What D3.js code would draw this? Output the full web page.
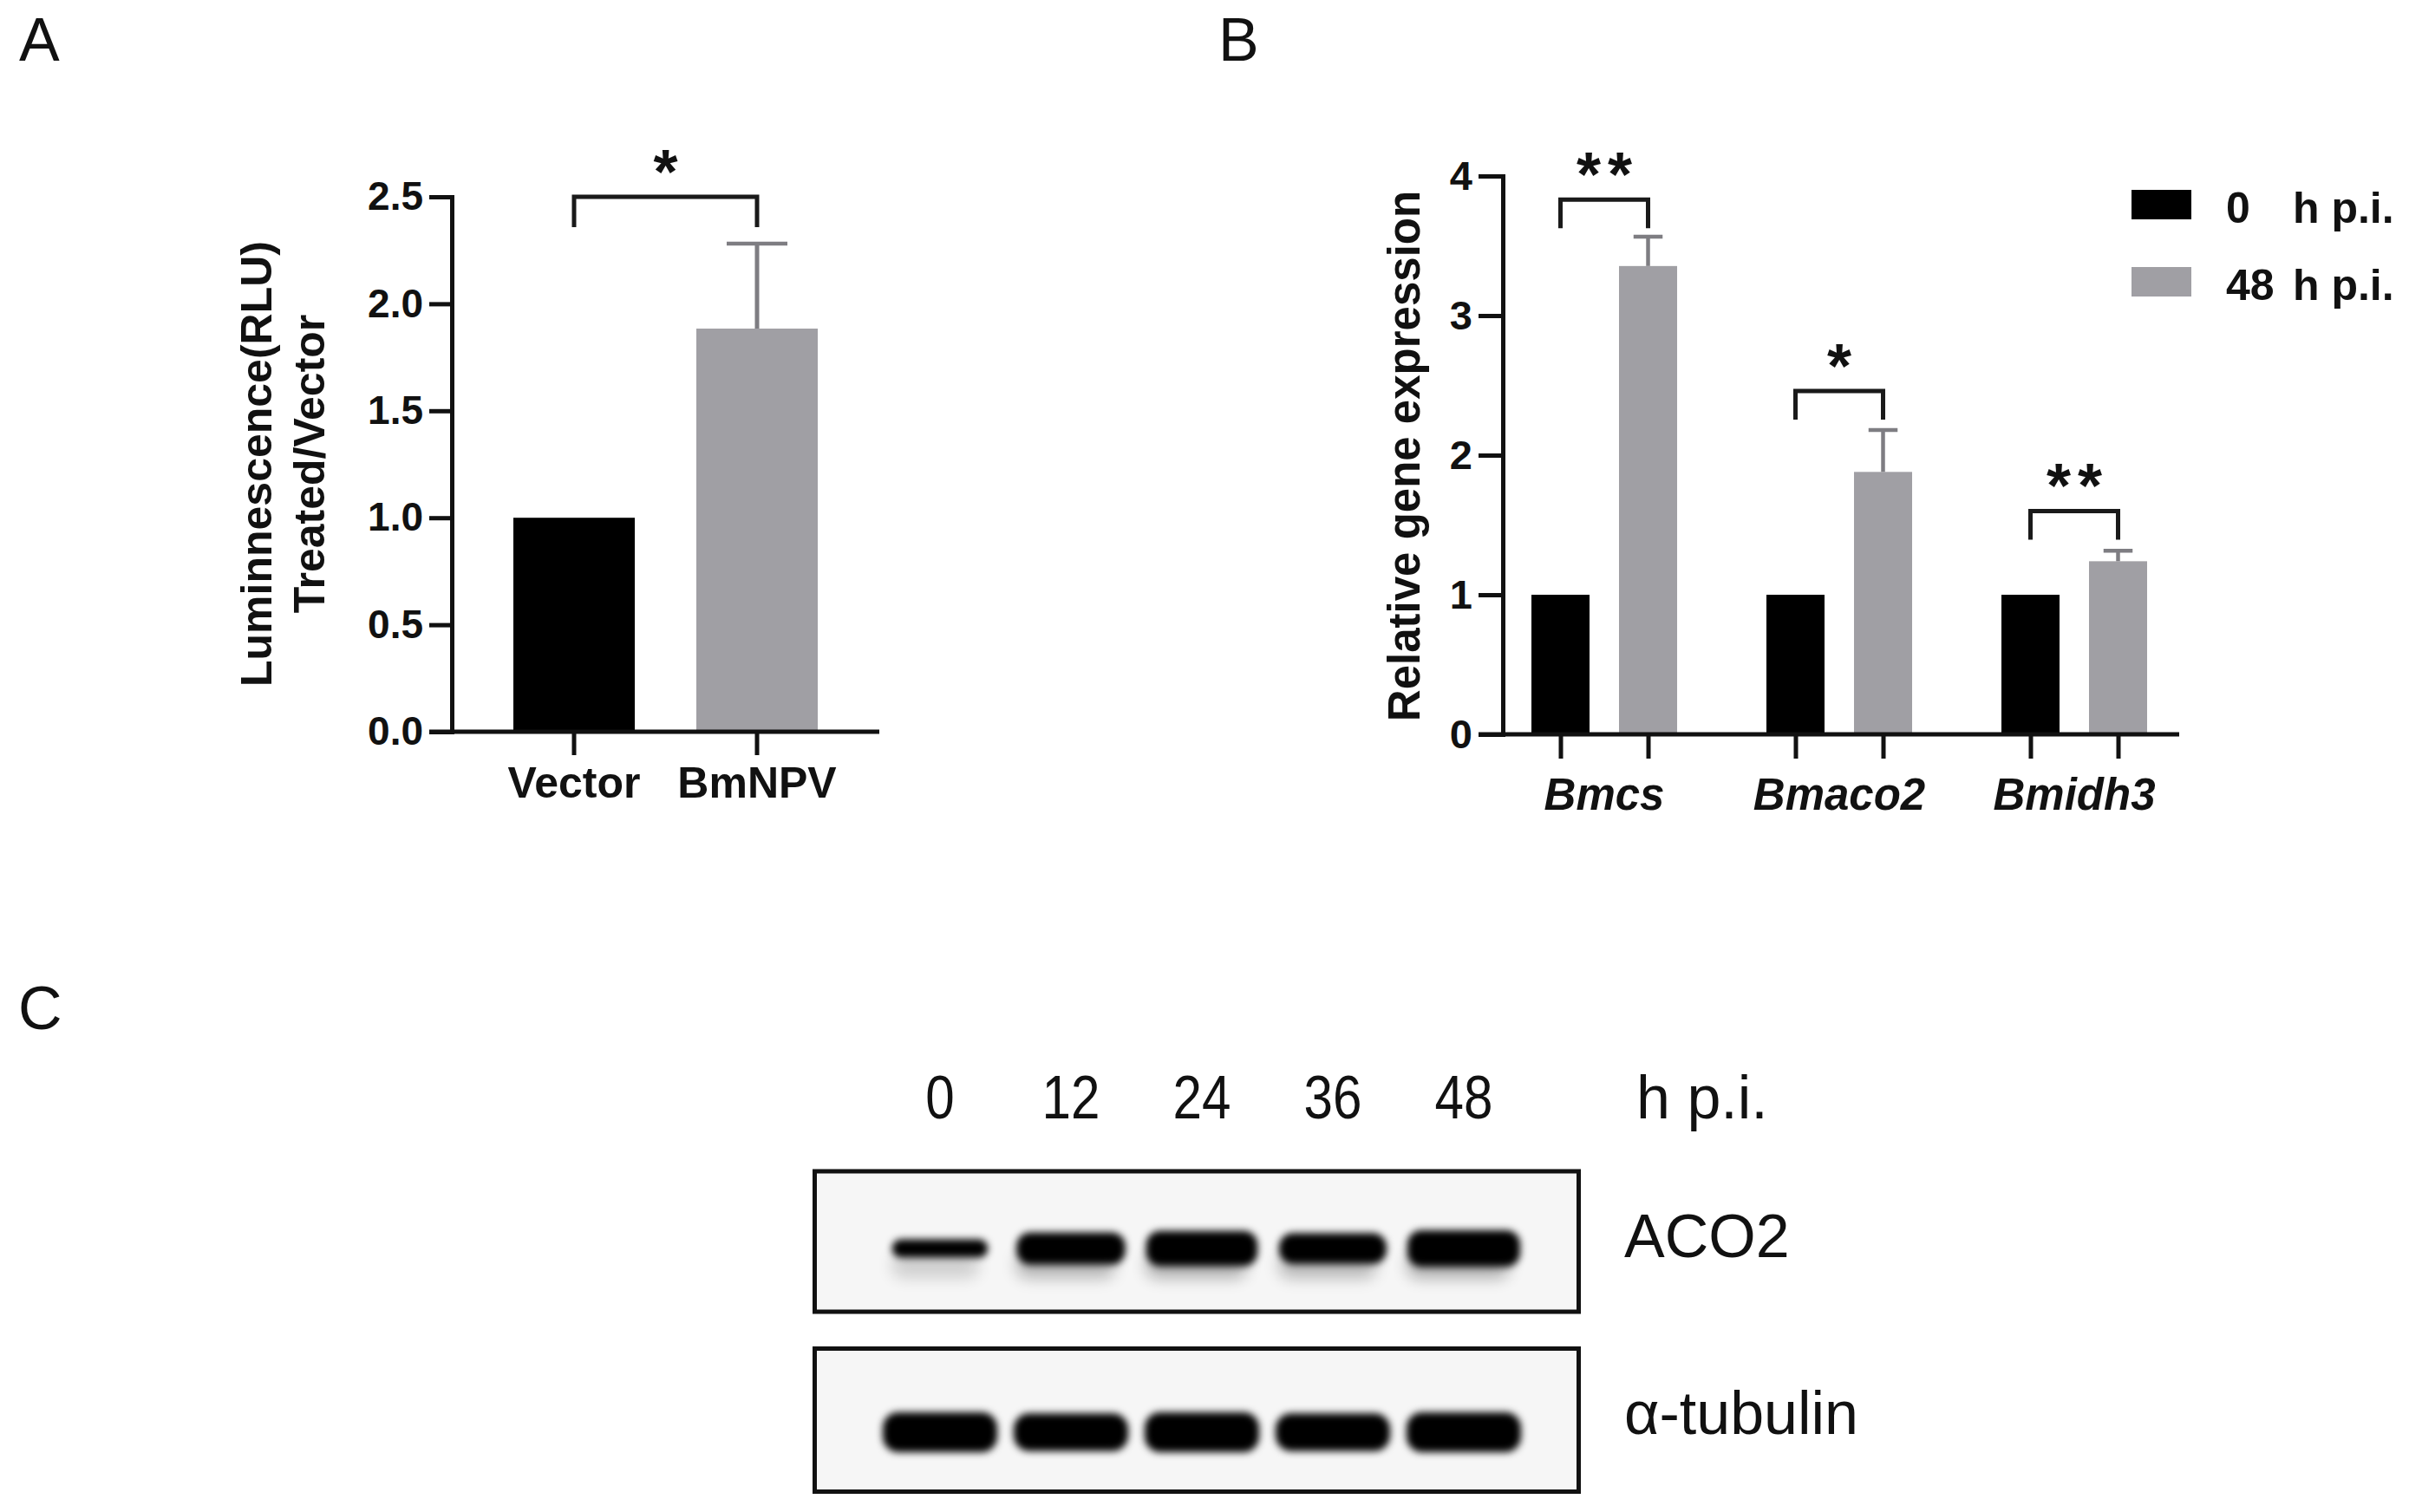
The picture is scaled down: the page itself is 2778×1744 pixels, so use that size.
<!DOCTYPE html>
<html><head><meta charset="utf-8">
<script src="https://cdn.jsdelivr.net/npm/d3@7"></script>
<style>body{margin:0;background:#fff} svg{display:block}</style>
</head><body>
<svg id="c" width="2778" height="1744"></svg>
<script>
// ---------- Panel A data ----------
const aCategories = ["Vector", "BmNPV"];
const aValues = [1.0, 1.884];
const aErrors = [0, 0.397];
const aTicks = [0, 0.5, 1.0, 1.5, 2.0, 2.5];
const aSig = [{from: "Vector", to: "BmNPV", level: 2.5, label: "*"}];

// ---------- Panel B data ----------
const bGenes = ["Bmcs", "Bmaco2", "Bmidh3"];
const bSeries = ["0 h p.i.", "48 h p.i."];
const b0h = [1, 1, 1];
const b48h = [3.355, 1.88, 1.24];
const b0hErr = [0, 0, 0];
const b48hErr = [0.21, 0.30, 0.075];
const bTicks = [0, 1, 2, 3, 4];
const bSig = [
  {gene: "Bmcs", level: 3.83, label: "**"},
  {gene: "Bmaco2", level: 2.46, label: "*"},
  {gene: "Bmidh3", level: 1.60, label: "**"}
];

// ---------- Panel C data ----------
const cLanes = ["0", "12", "24", "36", "48"];
const cUnit = "h p.i.";
const cBlots = ["ACO2", "α-tubulin"];
const aco2Intensity = [0.35, 0.85, 0.95, 0.8, 1.0];
const tubulinIntensity = [1.0, 0.95, 1.0, 0.95, 1.0];

// ---------- drawing ----------
const FONT = "'Liberation Sans', Arial, Helvetica, sans-serif";
const BLACK = "#000", GRAY = "#a09fa4", ERR = "#7e7d82", AXIS = "#111";
const svg = d3.select("#c");

// panel letters
[["A", 22, 70], ["B", 1405, 70], ["C", 21, 1187]].forEach(([t, x, y]) => {
  svg.append("text").attr("x", x).attr("y", y).text(t)
    .attr("font-family", FONT).attr("font-size", 70).attr("fill", "#111");
});

function styleAxis(g, fs, italic) {
  g.selectAll("path.domain").attr("stroke", AXIS).attr("stroke-width", 5).attr("stroke-linecap", "square");
  g.selectAll(".tick line").attr("stroke", AXIS).attr("stroke-width", 5);
  g.selectAll(".tick text").attr("font-family", FONT).attr("font-size", fs)
    .attr("font-weight", "bold").attr("fill", "#111")
    .attr("font-style", italic ? "italic" : "normal");
}

function sigBracket(g, x1, x2, y, label, leg) {
  g.append("path")
    .attr("d", `M${x1},${y + leg}V${y}H${x2}V${y + leg}`)
    .attr("fill", "none").attr("stroke", "#1a1a1a").attr("stroke-width", 5);
  g.append("text").attr("x", (x1 + x2) / 2 + (label.length > 1 ? 4 : 0)).attr("y", y - 4)
    .attr("text-anchor", "middle").attr("font-family", FONT).attr("font-weight", "bold")
    .attr("font-size", 72).attr("letter-spacing", label.length > 1 ? 8 : 0)
    .attr("fill", "#111").text(label);
}

// ===== Panel A =====
{
  const g = svg.append("g");
  const y = d3.scaleLinear().domain([0, 2.5]).range([844, 227]);
  const x = d3.scaleBand().domain(aCategories).range([592, 943]).paddingInner(0.3365);
  const bw = x.bandwidth();

  g.selectAll("rect.bar").data(aCategories).join("rect")
    .attr("x", d => x(d)).attr("y", (d, i) => y(aValues[i]))
    .attr("width", bw).attr("height", (d, i) => y(0) - y(aValues[i]))
    .attr("fill", (d, i) => i === 0 ? BLACK : GRAY);

  aCategories.forEach((d, i) => {
    if (!aErrors[i]) return;
    const cx = x(d) + bw / 2;
    g.append("line").attr("x1", cx).attr("x2", cx)
      .attr("y1", y(aValues[i])).attr("y2", y(aValues[i] + aErrors[i]))
      .attr("stroke", ERR).attr("stroke-width", 5);
    g.append("line").attr("x1", cx - bw / 4).attr("x2", cx + bw / 4)
      .attr("y1", y(aValues[i] + aErrors[i])).attr("y2", y(aValues[i] + aErrors[i]))
      .attr("stroke", ERR).attr("stroke-width", 4.5);
  });

  const ya = g.append("g").attr("transform", "translate(521,0)")
    .call(d3.axisLeft(y).tickValues(aTicks).tickFormat(d3.format(".1f"))
      .tickSize(26).tickSizeOuter(0).tickPadding(7));
  styleAxis(ya, 46, false);

  g.append("line").attr("x1", 495).attr("x2", 1014).attr("y1", y(0)).attr("y2", y(0))
    .attr("stroke", AXIS).attr("stroke-width", 5);
  const xa = g.append("g").attr("transform", `translate(0,${y(0)})`)
    .call(d3.axisBottom(x).tickSize(27).tickSizeOuter(0).tickPadding(13));
  xa.select("path.domain").remove();
  styleAxis(xa, 50, false);

  aSig.forEach(s => sigBracket(g, x(s.from) + bw / 2, x(s.to) + bw / 2, y(s.level), s.label, 35));

  [["Luminnescence(RLU)", 313], ["Treated/Vector", 374]].forEach(([t, bx]) => {
    g.append("text").attr("transform", `translate(${bx},535) rotate(-90)`)
      .attr("text-anchor", "middle").attr("font-family", FONT).attr("font-weight", "bold")
      .attr("font-size", 50).attr("fill", "#111").text(t);
  });
}

// ===== Panel B =====
{
  const g = svg.append("g");
  const y = d3.scaleLinear().domain([0, 4]).range([847, 203]);
  const xg = d3.scaleBand().domain(bGenes).range([1766, 2476]).paddingInner(0.38);
  const xi = d3.scaleBand().domain(bSeries).range([0, xg.bandwidth()]).paddingInner(0.3366);
  const bw = xi.bandwidth();
  const vals = [b0h, b48h], errs = [b0hErr, b48hErr], cols = [BLACK, GRAY];

  const rows = [];
  bGenes.forEach((gene, gi) => bSeries.forEach((s, si) => rows.push({
    gene, s, si, v: vals[si][gi], e: errs[si][gi], key: gene + "|" + s
  })));

  g.selectAll("rect.bar").data(rows).join("rect")
    .attr("x", d => xg(d.gene) + xi(d.s)).attr("y", d => y(d.v))
    .attr("width", bw).attr("height", d => y(0) - y(d.v))
    .attr("fill", d => cols[d.si]);

  rows.filter(d => d.e > 0).forEach(d => {
    const cx = xg(d.gene) + xi(d.s) + bw / 2;
    g.append("line").attr("x1", cx).attr("x2", cx).attr("y1", y(d.v)).attr("y2", y(d.v + d.e))
      .attr("stroke", ERR).attr("stroke-width", 4.5);
    g.append("line").attr("x1", cx - bw / 4).attr("x2", cx + bw / 4)
      .attr("y1", y(d.v + d.e)).attr("y2", y(d.v + d.e))
      .attr("stroke", ERR).attr("stroke-width", 4.5);
  });

  const ya = g.append("g").attr("transform", "translate(1733,0)")
    .call(d3.axisLeft(y).tickValues(bTicks).tickFormat(d3.format("d"))
      .tickSize(28).tickSizeOuter(0).tickPadding(7));
  styleAxis(ya, 47, false);

  g.append("line").attr("x1", 1705).attr("x2", 2513).attr("y1", y(0)).attr("y2", y(0))
    .attr("stroke", AXIS).attr("stroke-width", 5);

  const tickScale = d3.scaleOrdinal().domain(rows.map(d => d.key))
    .range(rows.map(d => xg(d.gene) + xi(d.s) + bw / 2));
  const xt = g.append("g").attr("transform", `translate(0,${y(0)})`)
    .call(d3.axisBottom(tickScale).tickSize(28).tickSizeOuter(0).tickFormat(""));
  xt.select("path.domain").remove();
  styleAxis(xt, 50, false);

  const xl = g.append("g").attr("transform", `translate(0,${y(0)})`)
    .call(d3.axisBottom(xg).tickSize(0).tickPadding(51));
  xl.select("path.domain").remove();
  xl.selectAll(".tick line").remove();
  styleAxis(xl, 51, true);

  bSig.forEach(s => sigBracket(g, xg(s.gene) + xi(bSeries[0]) + bw / 2,
    xg(s.gene) + xi(bSeries[1]) + bw / 2, y(s.level), s.label, 33));

  g.append("text").attr("transform", "translate(1637,526) rotate(-90)")
    .attr("text-anchor", "middle").attr("font-family", FONT).attr("font-weight", "bold")
    .attr("font-size", 51).attr("fill", "#111").text("Relative gene expression");

  // legend
  const lg = g.append("g");
  bSeries.forEach((s, i) => {
    const ly = 219 + i * 89;
    lg.append("rect").attr("x", 2458).attr("y", ly).attr("width", 69).attr("height", 34).attr("fill", cols[i]);
    const parts = s.split(" ");
    const t = lg.append("text").attr("y", ly + 38).attr("font-family", FONT)
      .attr("font-weight", "bold").attr("font-size", 50).attr("fill", "#111");
    t.append("tspan").attr("x", 2567).text(parts[0]);
    t.append("tspan").attr("x", 2644).text(parts.slice(1).join(" "));
  });
}

// ===== Panel C =====
{
  const g = svg.append("g");
  const defs = svg.append("defs");
  const f = defs.append("filter").attr("id", "blur").attr("x", "-30%").attr("y", "-80%")
    .attr("width", "160%").attr("height", "260%");
  f.append("feGaussianBlur").attr("stdDeviation", 4.5);
  const f2 = defs.append("filter").attr("id", "blur2").attr("x", "-30%").attr("y", "-80%")
    .attr("width", "160%").attr("height", "260%");
  f2.append("feGaussianBlur").attr("stdDeviation", 9);

  const x = d3.scalePoint().domain(cLanes).range([1084, 1688]);

  g.selectAll("text.lane").data(cLanes).join("text")
    .attr("transform", d => `translate(${x(d)},1290) scale(0.86,1)`)
    .attr("text-anchor", "middle").attr("font-family", FONT).attr("font-size", 70)
    .attr("fill", "#111").text(d => d);
  g.append("text").attr("x", 1887).attr("y", 1290).attr("font-family", FONT)
    .attr("font-size", 70).attr("fill", "#111").text(cUnit);

  const boxes = [{y: 1351, h: 162, cy: 1440}, {y: 1555.5, h: 165, cy: 1652}];
  const intens = [aco2Intensity, tubulinIntensity];
  const labelY = [1450, 1654];

  boxes.forEach((b, bi) => {
    g.append("rect").attr("x", 939.5).attr("y", b.y).attr("width", 881).attr("height", b.h)
      .attr("fill", "#f6f6f6");
    const bandG = g.append("g");
    cLanes.forEach((lane, li) => {
      const it = intens[bi][li];
      if (bi === 0) {
        const th = 10 + 32 * it, w = 100 + 30 * it;
        bandG.append("rect").attr("x", x(lane) - w / 2).attr("y", b.cy + 4)
          .attr("width", w * 0.9).attr("height", 30).attr("rx", 12)
          .attr("fill", "#000").attr("opacity", 0.22 * it + 0.08).attr("filter", "url(#blur2)");
        bandG.append("rect").attr("x", x(lane) - w / 2).attr("y", b.cy - th / 2)
          .attr("width", w).attr("height", th).attr("rx", Math.min(16, th / 2))
          .attr("fill", "#000").attr("filter", "url(#blur)");
      } else {
        const th = 46 * it, w = 132;
        bandG.append("rect").attr("x", x(lane) - w / 2).attr("y", b.cy - th / 2)
          .attr("width", w).attr("height", th).attr("rx", 18)
          .attr("fill", "#000").attr("filter", "url(#blur)");
      }
    });
    g.append("rect").attr("x", 939.5).attr("y", b.y).attr("width", 881).attr("height", b.h)
      .attr("fill", "none").attr("stroke", "#111").attr("stroke-width", 5);
    g.append("text").attr("x", 1873).attr("y", labelY[bi]).attr("font-family", FONT)
      .attr("font-size", 70).attr("fill", "#111").text(cBlots[bi]);
  });
}
</script>
</body></html>
